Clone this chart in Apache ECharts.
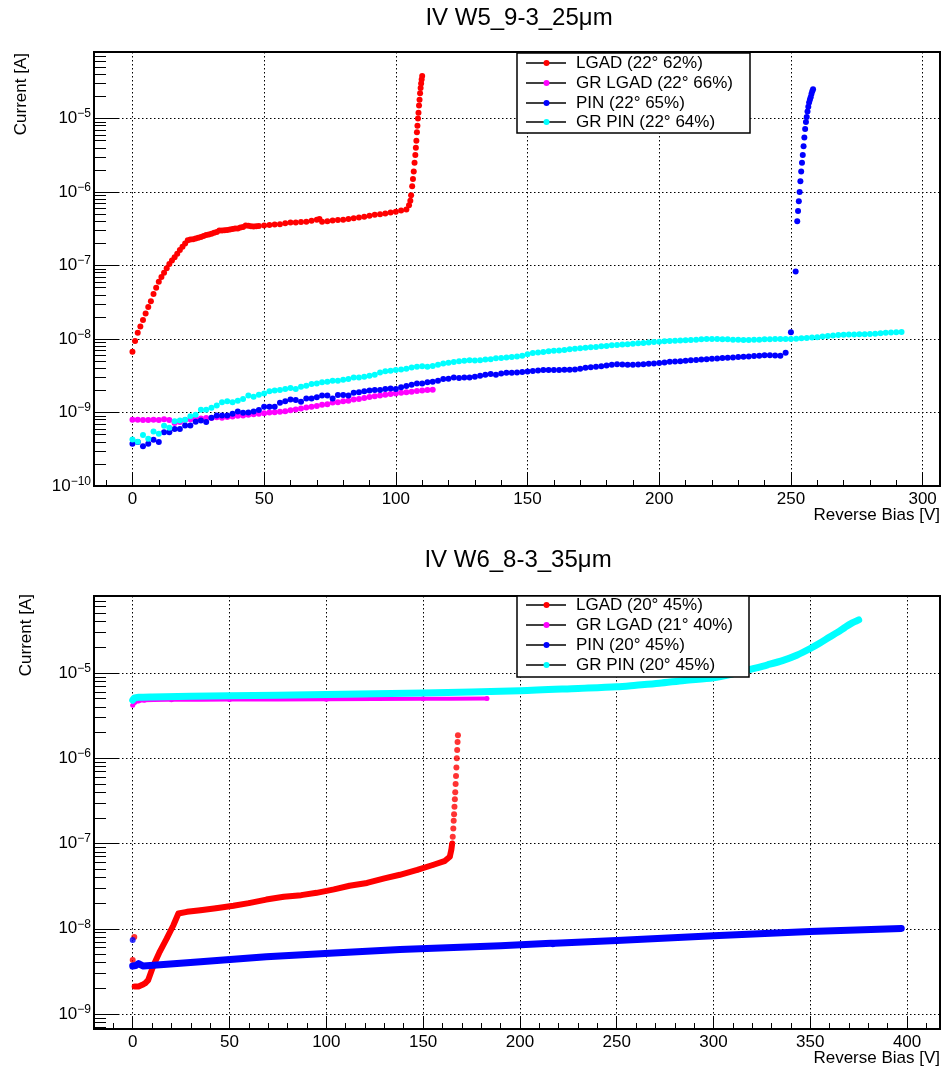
<!DOCTYPE html>
<html><head><meta charset="utf-8">
<script src="https://cdn.jsdelivr.net/npm/echarts@6/dist/echarts.min.js"></script>
<style>html,body{margin:0;padding:0;background:#fff}#c{width:944px;height:1070px}</style>
</head><body><div id="c"></div>
<script>
// ===== DATA (bias in V, current in A) =====
const titles = ['IV W5_9-3_25\u03bcm', 'IV W6_8-3_35\u03bcm'];
const legendTop = ['LGAD (22\u00b0 62%)', 'GR LGAD (22\u00b0 66%)', 'PIN (22\u00b0 65%)', 'GR PIN (22\u00b0 64%)'];
const legendBot = ['LGAD (20\u00b0 45%)', 'GR LGAD (21\u00b0 40%)', 'PIN (20\u00b0 45%)', 'GR PIN (20\u00b0 45%)'];
const seriesColors = ['#ff0000', '#ff00ff', '#0000ff', '#00ffff'];
const xTicksTop = [0, 50, 100, 150, 200, 250, 300];
const xTicksBot = [0, 50, 100, 150, 200, 250, 300, 350, 400];
const yDecadesTop = [-10, -9, -8, -7, -6, -5];
const yDecadesBot = [-9, -8, -7, -6, -5];

const topLGAD = [[0,6.7e-9],[1,9.4e-9],[2,1.22e-8],[3,1.48e-8],[4,1.82e-8],[5,2.22e-8],[6,2.73e-8],[7,3.26e-8],[8,4.1e-8],[9,5.0e-8],[10,6.0e-8],[11,7.0e-8],[12,8.0e-8],[13,9.2e-8],[14,1.05e-7],[15,1.17e-7],[16,1.3e-7],[17,1.45e-7],[18,1.63e-7],[19,1.8e-7],[20,2.0e-7],[21,2.2e-7],[22,2.25e-7],[23,2.28e-7],[24,2.33e-7],[25,2.38e-7],[26,2.45e-7],[27,2.52e-7],[28,2.6e-7],[29,2.65e-7],[30,2.7e-7],[31,2.78e-7],[32,2.85e-7],[33,3.0e-7],[34,3.0e-7],[35,3.02e-7],[36,3.05e-7],[37,3.1e-7],[38,3.15e-7],[39,3.18e-7],[40,3.2e-7],[41,3.28e-7],[42,3.35e-7],[43,3.5e-7],[44,3.48e-7],[45,3.42e-7],[46,3.4e-7],[47,3.42e-7],[48,3.45e-7],[50,3.5e-7],[52,3.55e-7],[54,3.6e-7],[56,3.65e-7],[58,3.75e-7],[60,3.85e-7],[62,3.85e-7],[64,3.9e-7],[66,3.95e-7],[68,4.05e-7],[70,4.2e-7],[71,4.3e-7],[72,3.95e-7],[74,4.0e-7],[76,4.1e-7],[78,4.15e-7],[80,4.2e-7],[82,4.3e-7],[84,4.4e-7],[86,4.5e-7],[88,4.6e-7],[90,4.75e-7],[92,4.9e-7],[94,5.0e-7],[96,5.1e-7],[98,5.25e-7],[100,5.4e-7],[102,5.6e-7],[104,5.8e-7],[105,6.6e-7],[105.5,7.6e-7],[105.8,9e-7],[106.2,1.2e-6],[106.5,1.5e-6],[106.8,1.9e-6],[107.1,2.5e-6],[107.4,3.2e-6],[107.6,4.0e-6],[107.8,5.0e-6],[108.0,6.5e-6],[108.2,8.0e-6],[108.4,1.0e-5],[108.6,1.2e-5],[108.8,1.5e-5],[109.0,1.8e-5],[109.2,2.2e-5],[109.4,2.6e-5],[109.6,3.0e-5],[109.8,3.4e-5],[110.0,3.8e-5]];

const topGRLGAD = [[0,8.0e-10],[2,8.0e-10],[4,7.9e-10],[6,7.9e-10],[8,8.0e-10],[10,7.9e-10],[12,8.1e-10],[14,7.9e-10],[16,7.2e-10],[18,7.4e-10],[20,7.9e-10],[22,8.1e-10],[24,8.2e-10],[26,8.3e-10],[28,8.4e-10],[30,8.4e-10],[32,8.6e-10],[34,8.5e-10],[36,8.7e-10],[38,8.8e-10],[40,9.0e-10],[42,9.1e-10],[44,9.3e-10],[46,9.5e-10],[48,9.6e-10],[50,9.8e-10],[52,1.0e-9],[54,1.01e-9],[56,1.02e-9],[58,1.04e-9],[60,1.07e-9],[62,1.1e-9],[64,1.13e-9],[66,1.17e-9],[68,1.2e-9],[70,1.23e-9],[72,1.27e-9],[74,1.3e-9],[76,1.37e-9],[78,1.38e-9],[80,1.42e-9],[82,1.45e-9],[84,1.5e-9],[86,1.53e-9],[88,1.58e-9],[90,1.62e-9],[92,1.66e-9],[94,1.7e-9],[96,1.75e-9],[98,1.78e-9],[100,1.82e-9],[102,1.85e-9],[104,1.88e-9],[106,1.92e-9],[108,1.96e-9],[110,2.0e-9],[112,2.02e-9],[114,2.04e-9]];

const topPIN = [[0,3.77e-10],[2,3.97e-10],[4,3.47e-10],[6,3.77e-10],[8,4.27e-10],[10,3.97e-10],[12,5.37e-10],[14,5.37e-10],[16,5.96e-10],[18,5.96e-10],[20,6.67e-10],[22,6.67e-10],[24,7.48e-10],[26,7.8e-10],[28,7.4e-10],[30,8.47e-10],[32,9.1e-10],[34,9.1e-10],[36,9.1e-10],[38,9.6e-10],[40,1.03e-9],[42,9.9e-10],[44,9.97e-10],[46,1.03e-9],[48,1.08e-9],[50,1.2e-9],[52,1.2e-9],[54,1.2e-9],[56,1.36e-9],[58,1.42e-9],[60,1.5e-9],[62,1.48e-9],[64,1.4e-9],[66,1.55e-9],[68,1.55e-9],[70,1.61e-9],[72,1.7e-9],[74,1.7e-9],[76,1.55e-9],[78,1.73e-9],[80,1.73e-9],[82,1.7e-9],[84,1.86e-9],[86,1.88e-9],[88,1.94e-9],[90,2.0e-9],[92,2.02e-9],[94,2.02e-9],[96,2.09e-9],[98,2.12e-9],[100,2.09e-9],[102,2.2e-9],[104,2.29e-9],[106,2.39e-9],[108,2.49e-9],[110,2.49e-9],[112,2.57e-9],[114,2.63e-9],[116,2.7e-9],[118,2.85e-9],[120,2.88e-9],[122,3.0e-9],[124,2.95e-9],[126,3.0e-9],[128,3.0e-9],[130,3.06e-9],[132,3.16e-9],[134,3.26e-9],[136,3.34e-9],[138,3.26e-9],[140,3.4e-9],[142,3.47e-9],[144,3.47e-9],[146,3.5e-9],[148,3.55e-9],[150,3.62e-9],[152,3.68e-9],[154,3.72e-9],[156,3.78e-9],[158,3.8e-9],[160,3.8e-9],[162,3.8e-9],[164,3.82e-9],[166,3.82e-9],[168,3.85e-9],[170,3.95e-9],[172,4.05e-9],[174,4.12e-9],[176,4.2e-9],[178,4.25e-9],[180,4.35e-9],[182,4.45e-9],[184,4.55e-9],[186,4.5e-9],[188,4.45e-9],[190,4.47e-9],[192,4.5e-9],[194,4.55e-9],[196,4.6e-9],[198,4.65e-9],[200,4.7e-9],[202,4.8e-9],[204,4.9e-9],[206,4.95e-9],[208,5.0e-9],[210,5.05e-9],[212,5.12e-9],[214,5.2e-9],[216,5.25e-9],[218,5.3e-9],[220,5.4e-9],[222,5.45e-9],[224,5.5e-9],[226,5.55e-9],[228,5.62e-9],[230,5.7e-9],[232,5.75e-9],[234,5.8e-9],[236,5.85e-9],[238,5.9e-9],[240,6.0e-9],[242,6.0e-9],[244,5.95e-9],[246,5.9e-9],[248,6.5e-9],[250,1.24e-8],[251.8,8.3e-8],[252.4,4.0e-7],[252.7,5.5e-7],[253.0,7.5e-7],[253.3,1.0e-6],[253.6,1.4e-6],[253.9,1.9e-6],[254.2,2.5e-6],[254.5,3.2e-6],[254.8,4.2e-6],[255.1,5.5e-6],[255.4,7.2e-6],[255.7,9.0e-6],[256.0,1.05e-5],[256.3,1.25e-5],[256.6,1.45e-5],[256.9,1.65e-5],[257.2,1.8e-5],[257.5,1.95e-5],[257.8,2.15e-5],[258.1,2.35e-5],[258.4,2.5e-5]];

const topGRPIN = [[0,4.3e-10],[2,4.0e-10],[4,4.95e-10],[6,4.4e-10],[8,5.5e-10],[10,5.15e-10],[12,6.6e-10],[14,6.2e-10],[16,7.6e-10],[18,7.8e-10],[20,8.0e-10],[22,8.9e-10],[24,9.3e-10],[26,1.09e-9],[28,1.09e-9],[30,1.16e-9],[32,1.25e-9],[34,1.38e-9],[36,1.42e-9],[38,1.38e-9],[40,1.45e-9],[42,1.53e-9],[44,1.7e-9],[46,1.64e-9],[48,1.75e-9],[50,1.82e-9],[52,1.94e-9],[54,2.0e-9],[56,2.02e-9],[58,2.09e-9],[60,2.16e-9],[62,2.09e-9],[64,2.24e-9],[66,2.32e-9],[68,2.44e-9],[70,2.49e-9],[72,2.57e-9],[74,2.63e-9],[76,2.7e-9],[78,2.7e-9],[80,2.79e-9],[82,2.86e-9],[84,3.0e-9],[86,3.0e-9],[88,3.06e-9],[90,3.16e-9],[92,3.26e-9],[94,3.5e-9],[96,3.63e-9],[98,3.7e-9],[100,3.78e-9],[102,3.85e-9],[104,3.95e-9],[106,4.1e-9],[108,4.2e-9],[110,4.25e-9],[112,4.2e-9],[114,4.3e-9],[116,4.45e-9],[118,4.64e-9],[120,4.75e-9],[122,4.85e-9],[124,4.97e-9],[126,5.05e-9],[128,5.15e-9],[130,5.1e-9],[132,5.15e-9],[134,5.25e-9],[136,5.3e-9],[138,5.48e-9],[140,5.5e-9],[142,5.6e-9],[144,5.7e-9],[146,5.8e-9],[148,5.9e-9],[150,6.2e-9],[152,6.45e-9],[154,6.55e-9],[156,6.65e-9],[158,6.8e-9],[160,6.9e-9],[162,7.0e-9],[164,7.1e-9],[166,7.25e-9],[168,7.35e-9],[170,7.5e-9],[172,7.6e-9],[174,7.7e-9],[176,7.8e-9],[178,7.95e-9],[180,8.05e-9],[182,8.2e-9],[184,8.3e-9],[186,8.4e-9],[188,8.5e-9],[190,8.65e-9],[192,8.75e-9],[194,8.85e-9],[196,8.95e-9],[198,9.1e-9],[200,9.2e-9],[202,9.3e-9],[204,9.4e-9],[206,9.5e-9],[208,9.55e-9],[210,9.6e-9],[212,9.7e-9],[214,9.8e-9],[216,9.9e-9],[218,1.0e-8],[220,1.0e-8],[222,1.0e-8],[224,9.95e-9],[226,9.9e-9],[228,9.8e-9],[230,9.75e-9],[232,9.7e-9],[234,9.7e-9],[236,9.75e-9],[238,9.8e-9],[240,9.9e-9],[242,9.95e-9],[244,1.0e-8],[246,1.0e-8],[248,1.0e-8],[250,1.0e-8],[252,1.01e-8],[254,1.02e-8],[256,1.03e-8],[258,1.05e-8],[260,1.06e-8],[262,1.08e-8],[264,1.1e-8],[266,1.12e-8],[268,1.13e-8],[270,1.14e-8],[272,1.15e-8],[274,1.15e-8],[276,1.16e-8],[278,1.16e-8],[280,1.17e-8],[282,1.18e-8],[284,1.2e-8],[286,1.22e-8],[288,1.23e-8],[290,1.24e-8],[292,1.25e-8]];

const botLGAD = [[1,2.1e-9],[3,2.1e-9],[5,2.2e-9],[6.5,2.3e-9],[8,2.5e-9],[10.7,3.7e-9],[14,5.4e-9],[17.6,7.7e-9],[21,1.1e-8],[23.6,1.51e-8],[28,1.58e-8],[35,1.65e-8],[43,1.74e-8],[52,1.86e-8],[60,2.0e-8],[69,2.2e-8],[78,2.37e-8],[87,2.48e-8],[95,2.64e-8],[104,2.9e-8],[112,3.2e-8],[121,3.45e-8],[130,3.9e-8],[138,4.3e-8],[147,4.9e-8],[155,5.6e-8],[161,6.2e-8],[163.8,7.0e-8],[164.6,8.5e-8],[165,1.0e-7]];
const botLGADBreak = [[165.3,1.2e-7],[165.6,1.5e-7],[165.8,1.85e-7],[166,2.2e-7],[166.2,2.7e-7],[166.4,3.3e-7],[166.6,4.0e-7],[166.8,5.0e-7],[167,6.2e-7],[167.2,7.8e-7],[167.4,1.0e-6],[167.6,1.25e-6],[167.8,1.55e-6],[168,1.86e-6]];
const botLGADStart = [[0,4.3e-9],[0.8,8.0e-9]];
const botGRLGAD = [[0,4.2e-6],[1,4.5e-6],[3,4.7e-6],[6,4.8e-6],[20,4.85e-6],[50,4.88e-6],[100,4.93e-6],[150,4.98e-6],[183,5.02e-6]];
const botPIN = [[0,3.65e-9],[1.5,3.7e-9],[3,3.9e-9],[5.5,3.65e-9],[35,4.1e-9],[69,4.7e-9],[104,5.2e-9],[138,5.7e-9],[190,6.3e-9],[216,6.75e-9],[217,6.5e-9],[218,6.75e-9],[250,7.3e-9],[300,8.3e-9],[350,9.3e-9],[397,1.01e-8]];
const botPINStart = [[0,7.4e-9]];
const botGRPIN = [[0,4.8e-6],[1,5.1e-6],[3,5.2e-6],[10,5.25e-6],[50,5.4e-6],[100,5.6e-6],[150,5.85e-6],[200,6.2e-6],[230,6.6e-6],[250,6.9e-6],[260,7.2e-6],[272,7.6e-6],[285,8.2e-6],[300,8.8e-6],[310,9.8e-6],[320,1.12e-5],[328,1.25e-5],[336,1.41e-5],[343,1.62e-5],[350,1.94e-5],[355,2.25e-5],[360,2.65e-5],[364,3.0e-5],[368,3.45e-5],[371,3.8e-5],[375,4.2e-5]];

// ===== CHART =====
const FONT = '"Liberation Sans", Arial, Helvetica, sans-serif';
const chart = echarts.init(document.getElementById('c'), null, {renderer: 'canvas'});
const toLog = arr => arr.map(p => [p[0], Math.log10(p[1])]);

const xRange = [[-14.6, 306.6], [-20, 417]];
const yRange = [[-10, -4.095], [-9.176, -4.096]];
const xMajor = [xTicksTop, xTicksBot];
const yMajor = [yDecadesTop, yDecadesBot];

function minorLin(lo, hi) { const out = []; for (let v = Math.ceil(lo / 10) * 10; v <= hi; v += 10) out.push(v); return out; }
function minorLog(lo, hi) { const out = []; for (let n = Math.floor(lo); n <= Math.ceil(hi); n++) for (let k = 2; k <= 9; k++) { const v = n + Math.log10(k); if (v > lo && v < hi) out.push(v); } return out; }

const grid = [
  {left: 94, top: 52, width: 846, height: 434, show: true, borderColor: '#000', borderWidth: 2, backgroundColor: 'transparent'},
  {left: 94, top: 596, width: 846, height: 433, show: true, borderColor: '#000', borderWidth: 2, backgroundColor: 'transparent'}
];
const dotted = {color: '#000', width: 1, type: [1.5, 2.5]};
const xAxis = [], yAxis = [];
for (let g = 0; g < 2; g++) {
  xAxis.push({type: 'value', gridIndex: g, min: xRange[g][0], max: xRange[g][1], position: 'bottom',
    axisLine: {show: true, onZero: false, lineStyle: {color: '#000', width: 2}},
    axisTick: {show: true, inside: true, length: 13, customValues: xMajor[g], lineStyle: {color: '#000', width: 1}},
    axisLabel: {show: true, customValues: xMajor[g], margin: 5, color: '#000', fontSize: 17, fontFamily: FONT},
    splitLine: {show: true, lineStyle: dotted}});
  xAxis.push({type: 'value', gridIndex: g, min: xRange[g][0], max: xRange[g][1], position: 'bottom',
    axisLine: {show: false, onZero: false},
    axisTick: {show: true, inside: true, length: 6, customValues: minorLin(xRange[g][0], xRange[g][1]), lineStyle: {color: '#000', width: 1}},
    axisLabel: {show: false}, splitLine: {show: false}});
  yAxis.push({type: 'value', gridIndex: g, min: yRange[g][0], max: yRange[g][1], position: 'left',
    axisLine: {show: true, onZero: false, lineStyle: {color: '#000', width: 2}},
    axisTick: {show: true, inside: true, length: 24, customValues: yMajor[g], lineStyle: {color: '#000', width: 1}},
    axisLabel: {show: true, customValues: yMajor[g], margin: 3, color: '#000',
      formatter: v => '{b|10}{s|\u2212' + Math.abs(Math.round(v)) + '}',
      rich: {b: {fontSize: 17, fontFamily: FONT, color: '#000'}, s: {fontSize: 12, fontFamily: FONT, color: '#000', padding: [0, 0, 9, 0]}}},
    splitLine: {show: true, lineStyle: dotted}});
  yAxis.push({type: 'value', gridIndex: g, min: yRange[g][0], max: yRange[g][1], position: 'left',
    axisLine: {show: false, onZero: false},
    axisTick: {show: true, inside: true, length: 12, customValues: minorLog(yRange[g][0], yRange[g][1]), lineStyle: {color: '#000', width: 1}},
    axisLabel: {show: false}, splitLine: {show: false}});
}

const topSets = [topLGAD, topGRLGAD, topPIN, topGRPIN];
const series = [];
topSets.forEach((d, i) => series.push({type: 'scatter', xAxisIndex: 0, yAxisIndex: 0, data: toLog(d), symbol: 'circle', symbolSize: 6, itemStyle: {color: seriesColors[i], opacity: 1}, silent: true, z: 2 + i}));
const botSets = [botLGAD, botGRLGAD, botPIN, botGRPIN];
const botWidths = [6, 4, 7, 7];
const botSmooth = [false, 0.3, false, 0.3];
botSets.forEach((d, i) => series.push({type: 'line', xAxisIndex: 2, yAxisIndex: 2, data: toLog(d), smooth: botSmooth[i], symbol: 'circle', symbolSize: 5, showSymbol: true, showAllSymbol: true, itemStyle: {color: seriesColors[i]}, lineStyle: {color: seriesColors[i], width: botWidths[i], cap: 'round', join: 'round'}, silent: true, z: 2 + i}));
series.push({type: 'scatter', xAxisIndex: 2, yAxisIndex: 2, data: toLog(botLGADBreak), symbolSize: 6, itemStyle: {color: seriesColors[0]}, silent: true, z: 2});
series.push({type: 'scatter', xAxisIndex: 2, yAxisIndex: 2, data: toLog(botLGADStart), symbolSize: 6, itemStyle: {color: seriesColors[0]}, silent: true, z: 2});
series.push({type: 'scatter', xAxisIndex: 2, yAxisIndex: 2, data: toLog(botPINStart), symbolSize: 6, itemStyle: {color: seriesColors[2]}, silent: true, z: 4});

// ===== decorations: titles, axis titles, legends =====
const graphic = [];
const txt = (text, x, y, size, align, vAlign, rot) => ({type: 'text', x: x, y: y, rotation: rot || 0, z: 100,
  style: {text: text, fill: '#000', fontSize: size, fontFamily: FONT, align: align, verticalAlign: vAlign}});
graphic.push(txt(titles[0], 519, 18, 24, 'center', 'middle'));
graphic.push(txt(titles[1], 518, 560, 24, 'center', 'middle'));
graphic.push(txt('Current [A]', 21, 53, 17, 'right', 'middle', Math.PI / 2));
graphic.push(txt('Current [A]', 26, 594, 17, 'right', 'middle', Math.PI / 2));
graphic.push(txt('Reverse Bias [V]', 940, 515, 17, 'right', 'middle'));
graphic.push(txt('Reverse Bias [V]', 940, 1058, 17, 'right', 'middle'));

function legendBox(labels, x0, y0, w, h, rows) {
  graphic.push({type: 'rect', z: 100, shape: {x: x0, y: y0, width: w, height: h}, style: {fill: '#fff', stroke: '#000', lineWidth: 1.5}});
  labels.forEach((lab, i) => {
    const y = rows[i];
    graphic.push({type: 'line', z: 101, shape: {x1: 526, y1: y, x2: 566, y2: y}, style: {stroke: '#000', lineWidth: 1.5}});
    graphic.push({type: 'circle', z: 102, shape: {cx: 546.5, cy: y, r: 3}, style: {fill: seriesColors[i]}});
    graphic.push(txt(lab, 576, y, 17, 'left', 'middle'));
  });
}
legendBox(legendTop, 517, 53, 233, 80, [63, 83, 103, 122]);
legendBox(legendBot, 517, 596, 232, 81, [605, 625, 645, 665]);

chart.setOption({animation: false, backgroundColor: '#fff', grid: grid, xAxis: xAxis, yAxis: yAxis, series: series, graphic: graphic});
</script></body></html>
